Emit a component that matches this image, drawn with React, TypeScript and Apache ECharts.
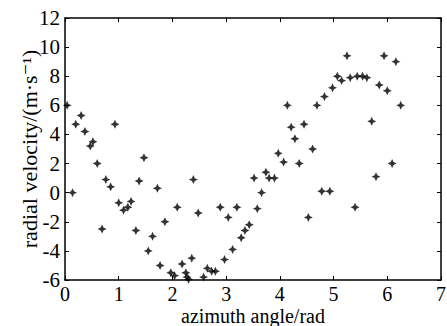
import React, { useEffect, useRef } from "react";
import * as echarts from "echarts";

const azimuth = [
  0.04, 0.14, 0.2, 0.3, 0.37, 0.47, 0.52, 0.6, 0.69, 0.76, 0.85, 0.93, 1.0, 1.09, 1.17, 1.23, 1.32, 1.38, 1.47, 1.55,
  1.63, 1.72, 1.77, 1.86, 1.97, 2.04, 2.09, 2.18, 2.25, 2.27, 2.3, 2.36, 2.39, 2.48, 2.58, 2.65, 2.73, 2.8, 2.89, 2.97,
  3.04, 3.12, 3.2, 3.28, 3.35, 3.43, 3.52, 3.58, 3.66, 3.74, 3.8, 3.9, 3.97, 4.07, 4.14, 4.21, 4.28, 4.36, 4.45, 4.53,
  4.61, 4.69, 4.78, 4.83, 4.93, 4.98, 5.07, 5.15, 5.25, 5.31, 5.4, 5.44, 5.54, 5.62, 5.71, 5.79, 5.85, 5.94, 6.0, 6.09,
  6.16, 6.25,
];
const velocity = [
  6.0, 0.0, 4.7, 5.3, 4.2, 3.2, 3.5, 2.0, -2.5, 0.9, 0.4, 4.7, -0.7, -1.2, -1.0, -0.6, -2.6, 0.8, 2.4, -4.0,
  -3.0, 0.3, -5.0, -2.0, -5.5, -5.7, -1.0, -4.9, -5.5, -5.8, -5.95, -4.5, 0.9, -1.4, -5.8, -5.2, -5.4, -5.4, -1.0, -4.6,
  -1.7, -3.9, -1.0, -3.1, -2.6, -2.2, 1.0, -1.1, 0.0, 1.4, 1.0, 1.0, 2.7, 2.1, 6.0, 4.5, 3.7, 2.0, 4.7, -1.7,
  3.0, 6.0, 0.1, 6.6, 0.1, 7.2, 8.0, 7.7, 9.4, 7.9, -1.0, 8.0, 8.0, 7.9, 4.9, 1.1, 7.4, 9.4, 7.0, 2.0,
  9.0, 6.0,
];
const xTicks = { min: 0, max: 7, interval: 1 };
const yTicks = { min: -6, max: 12, interval: 2 };
const xName = "azimuth angle/rad";
const yName = "radial velocity/(m·s⁻¹)";

const FONT = "'Liberation Serif', 'DejaVu Serif', serif";
const STAR = "path://M0,-10 L3.2,-3.2 L10,0 L3.2,3.2 L0,10 L-3.2,3.2 L-10,0 L-3.2,-3.2 Z";

export default function App() {
  const ref = useRef<HTMLDivElement>(null);
  useEffect(() => {
    const chart = echarts.init(ref.current!, undefined, { renderer: "svg" });
    const axisLine = { show: true, onZero: false, lineStyle: { color: "#000", width: 1.5 } };
    const axisTick = { show: true, inside: true, length: 4, lineStyle: { color: "#000", width: 1 } };
    chart.setOption({
      animation: false,
      backgroundColor: "#fff",
      grid: { left: 65, right: 6, top: 18, bottom: 46, show: false, containLabel: false, outerBoundsMode: "none" },
      xAxis: [
        {
          type: "value",
          position: "bottom",
          ...xTicks,
          name: xName,
          nameLocation: "middle",
          nameGap: 26,
          nameMoveOverlap: false,
          nameTextStyle: { fontFamily: FONT, fontSize: 20, lineHeight: 20, color: "#000" },
          axisLine,
          axisTick,
          splitLine: { show: false },
          axisLabel: { fontFamily: FONT, fontSize: 20, lineHeight: 20, color: "#000", margin: 4 },
        },
        {
          type: "value",
          position: "top",
          ...xTicks,
          axisLine,
          axisTick,
          splitLine: { show: false },
          axisLabel: { show: false },
        },
      ],
      yAxis: [
        {
          type: "value",
          position: "left",
          ...yTicks,
          name: yName,
          nameLocation: "middle",
          nameGap: 25,
          nameMoveOverlap: false,
          nameTextStyle: { fontFamily: FONT, fontSize: 22, color: "#000" },
          axisLine,
          axisTick,
          splitLine: { show: false },
          axisLabel: { fontFamily: FONT, fontSize: 21, lineHeight: 18, color: "#000", margin: 5 },
        },
        {
          type: "value",
          position: "right",
          ...yTicks,
          axisLine,
          axisTick,
          splitLine: { show: false },
          axisLabel: { show: false },
        },
      ],
      series: [
        {
          type: "scatter",
          xAxisIndex: 0,
          yAxisIndex: 0,
          symbol: STAR,
          symbolSize: 9,
          itemStyle: { color: "#000" },
          data: azimuth.map((x, i) => [x, velocity[i]]),
        },
      ],
    });
    return () => chart.dispose();
  }, []);
  return <div ref={ref} style={{ width: 447, height: 326, position: "absolute", left: 0, top: 0 }} />;
}
